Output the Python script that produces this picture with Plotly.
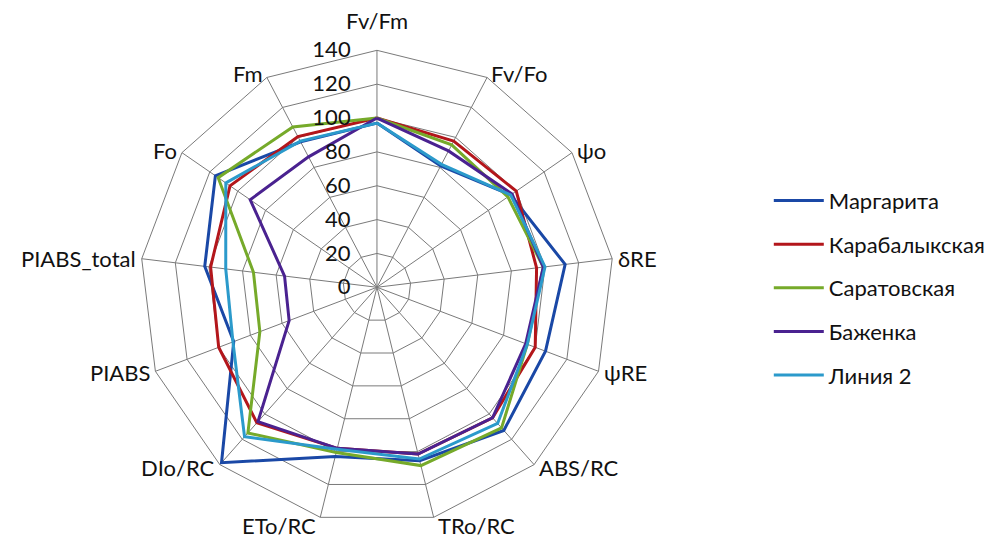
import math
import plotly.graph_objects as go

# Axes of the radar (clockwise from the top)
categories = ["Fv/Fm", "Fv/Fo", "ψo", "δRE", "ψRE", "ABS/RC", "TRo/RC",
              "ETo/RC", "DIo/RC", "PIABS", "PIABS_total", "Fo", "Fm"]

# Relative values, % of control
margarita = [97, 81, 96, 112, 106.5, 113, 105.5, 103, 138.5, 90.5, 102.5, 116, 97]
karabalyk = [100, 97.5, 100, 95, 100, 103, 101.5, 98, 107, 100, 99, 105.5, 100.5]
saratov = [100, 95, 94, 99, 95, 111, 108.5, 100.5, 115, 74, 73.5, 114, 107]
bazhenka = [100, 91, 97, 99, 94, 103, 101.5, 98, 106, 55.5, 55, 91, 87]
liniya2 = [97, 82, 96, 100, 95, 107.5, 104.5, 98.5, 118, 91, 90, 108.5, 97.5]

series_names = ["Маргарита", "Карабалыкская", "Саратовская", "Баженка", "Линия 2"]
series_values = [margarita, karabalyk, saratov, bazhenka, liniya2]
series_colors = ["#1a48a6", "#b3161b", "#76aa2a", "#4a2290", "#2b9acb"]

radial_ticks = [0, 20, 40, 60, 80, 100, 120, 140]

W, H = 992, 541
DOM_X = [0.141, 0.619]
DOM_Y = [0.031, 0.907]
FONT = "Lato, 'Open Sans', sans-serif"
TXT = "#111111"
FS = 22
NBSP = "\u00a0"

fig = go.Figure()
for name, vals, color in zip(series_names, series_values, series_colors):
    fig.add_trace(go.Scatterpolar(
        r=vals + vals[:1],
        theta=categories + categories[:1],
        mode="lines",
        name=name,
        legendgroup=name,
        line=dict(color=color, width=3),
    ))

# Category labels sit just outside the outer ring, anchored by the side they face
cx = (DOM_X[0] + DOM_X[1]) / 2
cy = (DOM_Y[0] + DOM_Y[1]) / 2
R = min((DOM_X[1] - DOM_X[0]) * W, (DOM_Y[1] - DOM_Y[0]) * H) / 2
annotations = []
n = len(categories)
for k, cat in enumerate(categories):
    a = 2 * math.pi * k / n
    s, c = math.sin(a), math.cos(a)
    if c > 0.95:
        dist, ya = R + 14, "bottom"
    elif c < -0.9:
        dist, ya = R + 8, "middle"
    else:
        dist, ya = R + 4, "middle"
    if abs(s) < 0.1:
        xa = "center"
    else:
        xa = "left" if s > 0 else "right"
    annotations.append(dict(
        x=cx + s * dist / W, y=cy + c * dist / H,
        xref="paper", yref="paper", text=cat, showarrow=False,
        xanchor=xa, yanchor=ya,
        font=dict(family=FONT, size=FS, color=TXT),
    ))

fig.update_layout(
    width=W,
    height=H,
    margin=dict(l=0, r=0, t=0, b=0),
    paper_bgcolor="white",
    plot_bgcolor="white",
    font=dict(family=FONT, size=FS, color=TXT),
    annotations=annotations,
    polar=dict(
        domain=dict(x=DOM_X, y=DOM_Y),
        bgcolor="white",
        gridshape="linear",
        angularaxis=dict(
            direction="clockwise",
            rotation=90,
            categoryorder="array",
            categoryarray=categories,
            showline=True,
            linecolor="#7a7a7a",
            linewidth=1,
            gridcolor="#7a7a7a",
            gridwidth=1,
            ticks="",
            showticklabels=False,
        ),
        radialaxis=dict(
            range=[0, 140],
            tickvals=radial_ticks,
            # trailing non-breaking spaces keep the numbers clear of the spoke
            ticktext=[f"{v}" + NBSP * 4 for v in radial_ticks],
            angle=90,
            tickangle=90,
            side="counterclockwise",
            showline=False,
            ticks="",
            gridcolor="#7a7a7a",
            gridwidth=1,
            tickfont=dict(family=FONT, size=FS, color=TXT),
        ),
    ),
    legend=dict(
        x=0.775,
        y=0.468,
        xanchor="left",
        yanchor="middle",
        itemwidth=50,
        tracegroupgap=12,
        font=dict(family=FONT, size=FS, color=TXT),
        bgcolor="rgba(0,0,0,0)",
    ),
    showlegend=True,
)

fig.write_html("out.html")
